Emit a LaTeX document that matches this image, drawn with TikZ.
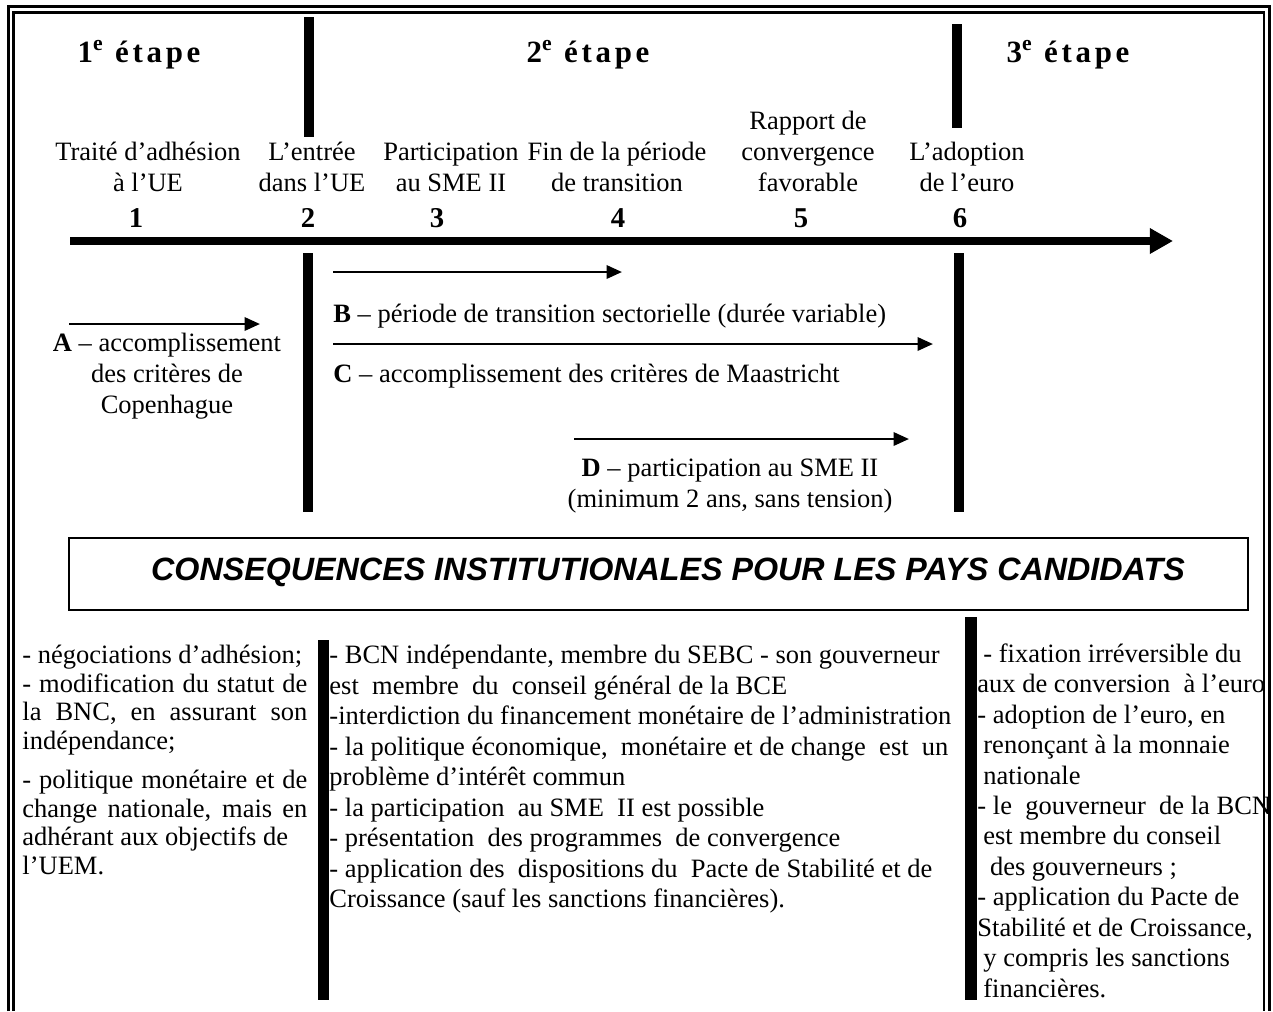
\documentclass[tikz,border=0pt]{standalone}
\usepackage{fontspec}
\setmainfont{Liberation Serif}
\setsansfont{Liberation Sans}
\usetikzlibrary{arrows.meta}

% justified line of the left column
\newcommand{\jline}[1]{\makebox[129pt][s]{#1}}
\newcommand{\ind}{\hspace*{2.7pt}}

\begin{document}
\begin{tikzpicture}[x=0.4528pt,y=-0.4528pt,
  every node/.style={inner sep=0pt},
  stage/.style={font=\fontsize{14}{16}\selectfont\bfseries\addfontfeature{LetterSpace=12}, anchor=base},
  ev/.style={font=\fontsize{12}{14}\selectfont, align=center, anchor=base},
  num/.style={font=\fontsize{13}{15}\selectfont\bfseries, anchor=base},
  lbl/.style={font=\fontsize{12}{14}\selectfont, anchor=base west},
  col/.style={font=\fontsize{12}{13.8}\selectfont, align=left, anchor=north west},
  ttl/.style={font=\fontsize{14.6}{16}\selectfont\sffamily\bfseries\itshape, anchor=base},
  bar/.style={line width=4.5pt},
  per/.style={line width=1.2pt, -{Triangle[length=7pt,width=6pt]}}]
\useasboundingbox (0,0) rectangle (1273,1011);

% stages
\node[stage] (st1) at (139,62) {1\textsuperscript{e} étape};
\node[stage] (st2) at (588,62) {2\textsuperscript{e} étape};
\node[stage] (st3) at (1068,62) {3\textsuperscript{e} étape};
\coordinate (b1t) at (309,17);
\coordinate (b1b) at (309,137);
\coordinate (b2t) at (957,24);
\coordinate (b2b) at (957,128);
\draw[bar] (b1t) -- (b1b);
\draw[bar] (b2t) -- (b2b);

% events on the time axis
\node[ev] (e1) at (148,191) {Traité d’adhésion\\à l’UE};
\node[ev] (e2) at (312,191) {L’entrée\\dans l’UE};
\node[ev] (e3) at (451,191) {Participation\\au SME II};
\node[ev] (e4) at (617,191) {Fin de la période\\de transition};
\node[ev] (e5) at (808,191) {Rapport de\\convergence\\favorable};
\node[ev] (e6) at (967,191) {L’adoption\\de l’euro};
\node[num] (n1) at (136,227) {1};
\node[num] (n2) at (308,227) {2};
\node[num] (n3) at (437,227) {3};
\node[num] (n4) at (618,227) {4};
\node[num] (n5) at (801,227) {5};
\node[num] (n6) at (960,227) {6};
\coordinate (t0) at (70,241);
\coordinate (t1) at (1173,241);
\draw[line width=3.6pt, -{Triangle[length=10.5pt,width=11pt]}] (t0) -- (t1);

% periods
\coordinate (b3t) at (308,253);
\coordinate (b3b) at (308,512);
\coordinate (b4t) at (959,253);
\coordinate (b4b) at (959,512);
\draw[bar] (b3t) -- (b3b);
\draw[bar] (b4t) -- (b4b);
\coordinate (pa0) at (69,324);
\coordinate (pa1) at (260,324);
\coordinate (pb0) at (333,272);
\coordinate (pb1) at (622,272);
\coordinate (pc0) at (333,344);
\coordinate (pc1) at (933,344);
\coordinate (pd0) at (574,439);
\coordinate (pd1) at (909,439);
\draw[per] (pa0) -- (pa1);
\draw[per] (pb0) -- (pb1);
\draw[per] (pc0) -- (pc1);
\draw[per] (pd0) -- (pd1);
\node[ev] (la) at (167,413) {\textbf{A} – accomplissement\\des critères de\\Copenhague};
\node[lbl] (lb) at (333,322) {\textbf{B} – période de transition sectorielle (durée variable)};
\node[lbl] (lc) at (333,382) {\textbf{C} – accomplissement des critères de Maastricht};
\node[ev] (ld) at (730,507) {\textbf{D} – participation au SME II\\(minimum 2 ans, sans tension)};

% consequences
\node[draw, line width=0.9pt, minimum width=533.9pt, minimum height=32.6pt] (cbox) at (658.5,574) {};
\node[ttl] (ctitle) at (668,580) {CONSEQUENCES INSTITUTIONALES POUR LES PAYS CANDIDATS};

\node[col, font=\fontsize{12}{12.9}\selectfont] (c1) at (22,645) {- négociations d’adhésion;\\
  \jline{- modification du statut de}\\
  \jline{la BNC, en assurant son}\\
  indépendance;\\[5pt]
  \jline{- politique monétaire et de}\\
  \jline{change nationale, mais en}\\
  adhérant aux objectifs de\\
  l’UEM.};
\node[col] (c2) at (329,645) {- BCN indépendante, membre du SEBC - son gouverneur\\
  est\ \ membre\ \ du\ \ conseil général de la BCE\\
  -interdiction du financement monétaire de l’administration\\
  - la politique économique,\ \ monétaire et de change\ \ est\ \ un\\
  problème d’intérêt commun\\
  - la participation\ \ au SME\ \ II est possible\\
  - présentation\ \ des programmes\ \ de convergence\\
  - application des\ \ dispositions du\ \ Pacte de Stabilité et de\\
  Croissance (sauf les sanctions financières).};
\node[col] (c3) at (977,643) {\ind- fixation irréversible du\\
  aux de conversion\ \ à l’euro\\
  - adoption de l’euro, en\\
  \ind renonçant à la monnaie\\
  \ind nationale\\
  - le\ \ gouverneur\ \ de la BCN\\
  \ind est membre du conseil\\
  \ind\ des gouverneurs ;\\
  - application du Pacte de\\
  Stabilité et de Croissance,\\
  \ind y compris les sanctions\\
  \ind financières.};
\coordinate (b5t) at (323.5,640);
\coordinate (b5b) at (323.5,1000);
\coordinate (b6t) at (971,617);
\coordinate (b6b) at (971,1000);
\draw[line width=5pt] (b5t) -- (b5b);
\draw[line width=5.4pt] (b6t) -- (b6b);

% frame
\draw[line width=1.4pt] (8.5,1011) |- (1269.5,6.5) -- (1269.5,1011);
\draw[line width=1.1pt] (13.5,1011) |- (1264,12.5) -- (1264,1011);
\end{tikzpicture}
\end{document}
